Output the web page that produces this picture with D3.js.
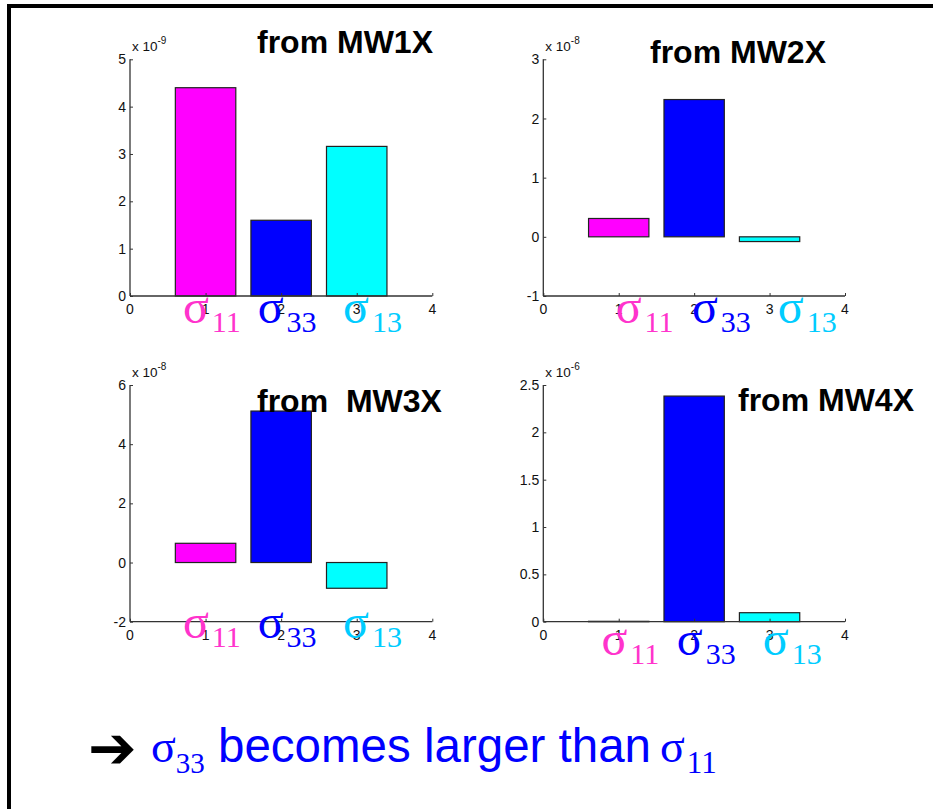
<!DOCTYPE html>
<html>
<head>
<meta charset="utf-8">
<script src="https://cdn.jsdelivr.net/npm/d3@7"></script>
<style>
  html, body { margin: 0; padding: 0; background: #fff; }
  svg { display: block; }
</style>
</head>
<body>
<svg id="chart" width="933" height="809"></svg>
<script>
// ---------------- DATA ----------------
const categories = [1, 2, 3];
const subscripts = ["11", "33", "13"];
const panelTitles = ["from MW1X", "from MW2X", "from  MW3X", "from MW4X"];
const exponents = [-9, -8, -8, -6];
const values1 = [4.40, 1.60, 3.16];     // x 10^-9
const values2 = [0.31, 2.32, -0.08];    // x 10^-8
const values3 = [0.65, 5.12, -0.87];    // x 10^-8
const values4 = [0.004, 2.383, 0.095];  // x 10^-6
const yDomain1 = [0, 5], yDomain2 = [-1, 3], yDomain3 = [-2, 6], yDomain4 = [0, 2.5];
const yTicks1 = [0, 1, 2, 3, 4, 5];
const yTicks2 = [-1, 0, 1, 2, 3];
const yTicks3 = [-2, 0, 2, 4, 6];
const yTicks4 = [0, 0.5, 1, 1.5, 2, 2.5];
const xDomain = [0, 4];
const xTicks = [0, 1, 2, 3, 4];
const conclusionText = " becomes larger than";

// ---------------- STYLE / LAYOUT ----------------
const barColors = ["#ff00ff", "#0000ff", "#00ffff"];
const sigmaColors = ["#ff33cc", "#0000ff", "#00ccff"];
const sansFont = "'Liberation Sans', Arial, Helvetica, sans-serif";
const serifFont = "'Liberation Serif', 'Times New Roman', serif";

const panels = [
  { values: values1, domain: yDomain1, ticks: yTicks1, exp: exponents[0], title: panelTitles[0],
    x0: 130, x1: 432.3, yTop: 59.3, yBot: 296, titleX: 257, titleY: 53, sigmaY: 323,
    labelStarts: [0.70, 1.69, 2.82] },
  { values: values2, domain: yDomain2, ticks: yTicks2, exp: exponents[1], title: panelTitles[1],
    x0: 543.3, x1: 845, yTop: 59.3, yBot: 296, titleX: 650, titleY: 63, sigmaY: 323,
    labelStarts: [0.96, 1.97, 3.11] },
  { values: values3, domain: yDomain3, ticks: yTicks3, exp: exponents[2], title: panelTitles[2],
    x0: 130, x1: 432.3, yTop: 385, yBot: 621.7, titleX: 257, titleY: 412, sigmaY: 638,
    labelStarts: [0.70, 1.69, 2.82] },
  { values: values4, domain: yDomain4, ticks: yTicks4, exp: exponents[3], title: panelTitles[3],
    x0: 543.3, x1: 845, yTop: 385, yBot: 621.7, titleX: 738, titleY: 411, sigmaY: 655,
    labelStarts: [0.77, 1.77, 2.91] }
];

const svg = d3.select("#chart");

// slide frame
svg.append("rect").attr("x", 7).attr("y", 4).attr("width", 926).attr("height", 4).attr("fill", "#000");
svg.append("rect").attr("x", 7).attr("y", 4).attr("width", 4).attr("height", 805).attr("fill", "#000");

panels.forEach(p => {
  const g = svg.append("g");
  const x = d3.scaleLinear().domain(xDomain).range([p.x0, p.x1]);
  const y = d3.scaleLinear().domain(p.domain).range([p.yBot, p.yTop]);

  // bars
  g.selectAll("rect.bar").data(categories).enter().append("rect")
    .attr("class", "bar")
    .attr("x", d => x(d - 0.4))
    .attr("width", d => x(d + 0.4) - x(d - 0.4))
    .attr("y", (d, i) => y(Math.max(0, p.values[i])))
    .attr("height", (d, i) => Math.abs(y(p.values[i]) - y(0)))
    .attr("fill", (d, i) => barColors[i])
    .attr("stroke", "#222")
    .attr("stroke-width", 1.2);

  // y axis (ticks inside)
  const yAxis = d3.axisRight(y).tickValues(p.ticks).tickSize(3).tickFormat("");
  const ya = g.append("g").attr("transform", `translate(${p.x0},0)`).call(yAxis);
  ya.select(".domain").attr("stroke", "#333").attr("stroke-width", 1.3).attr("d", `M0,${p.yBot}V${p.yTop}`);
  ya.selectAll(".tick line").attr("stroke", "#333");
  // y tick labels
  g.selectAll("text.ytl").data(p.ticks).enter().append("text")
    .attr("x", p.x0 - 4).attr("y", d => y(d))
    .attr("dy", "0.36em")
    .attr("text-anchor", "end")
    .style("font-family", sansFont).style("font-size", "14px").attr("fill", "#111")
    .text(d => String(d));

  // x axis (ticks inside)
  const xAxis = d3.axisTop(x).tickValues(xTicks).tickSize(3).tickFormat("");
  const xa = g.append("g").attr("transform", `translate(0,${p.yBot})`).call(xAxis);
  xa.select(".domain").attr("stroke", "#333").attr("stroke-width", 1.3).attr("d", `M${p.x0},0H${p.x1}`);
  xa.selectAll(".tick line").attr("stroke", "#333");
  g.selectAll("text.xtl").data(xTicks).enter().append("text")
    .attr("x", d => x(d)).attr("y", p.yBot + 18)
    .attr("text-anchor", "middle")
    .style("font-family", sansFont).style("font-size", "14px").attr("fill", "#111")
    .text(d => String(d));

  // exponent label
  const ex = g.append("text").attr("x", p.x0 + 2).attr("y", p.yTop - 8.5)
    .style("font-family", sansFont).style("font-size", "13.5px").attr("fill", "#111");
  ex.append("tspan").text("x 10");
  ex.append("tspan").attr("dy", -7).style("font-size", "10px").text(String(p.exp));

  // title
  g.append("text").attr("x", p.titleX).attr("y", p.titleY)
    .attr("xml:space", "preserve").style("white-space", "pre")
    .style("font-family", sansFont).style("font-size", "32px").style("font-weight", "bold")
    .attr("fill", "#000").text(p.title);

  // sigma labels
  categories.forEach((c, i) => {
    const t = g.append("text").attr("x", x(p.labelStarts[i])).attr("y", p.sigmaY)
      .style("font-family", serifFont).attr("fill", sigmaColors[i]);
    t.append("tspan").style("font-size", "48px").text("σ");
    t.append("tspan").attr("dx", 3).attr("dy", 9).style("font-size", "30px").text(subscripts[i]);
  });
});

// conclusion line
svg.append("text").attr("x", 88).attr("y", 768)
  .style("font-family", "'DejaVu Sans', sans-serif").style("font-size", "58px")
  .style("font-weight", "bold").attr("fill", "#000")
  .text("➔");
const ct = svg.append("text").attr("x", 151).attr("y", 762).attr("fill", "#0000ff")
  .attr("xml:space", "preserve").style("white-space", "pre");
ct.append("tspan").style("font-family", serifFont).style("font-size", "46px").text("σ");
ct.append("tspan").attr("dy", 11).style("font-family", serifFont).style("font-size", "29px").text(subscripts[1]);
ct.append("tspan").attr("dy", -11).style("font-family", sansFont).style("font-size", "47.5px").text(conclusionText);
ct.append("tspan").attr("dx", 9).style("font-family", serifFont).style("font-size", "46px").text("σ");
ct.append("tspan").attr("dx", 2).attr("dy", 11).style("font-family", serifFont).style("font-size", "31px").text(subscripts[0]);
</script>
</body>
</html>
